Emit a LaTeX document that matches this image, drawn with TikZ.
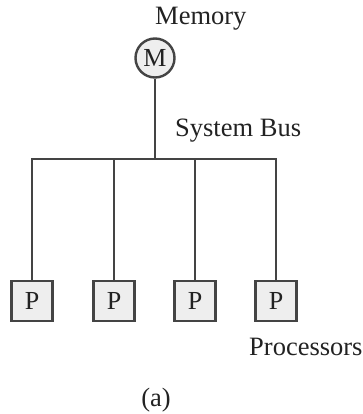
\documentclass[tikz,border=0pt]{standalone}
\usepackage{fontspec}
\setmainfont{Liberation Serif}
\definecolor{ln}{HTML}{444444}
\definecolor{fl}{HTML}{EEEEEE}
\definecolor{tx}{HTML}{222222}
\begin{document}
\begin{tikzpicture}[x=1pt,y=-1pt,
  lbl/.style={inner sep=0pt,text=tx,font=\fontsize{26.5}{30}\selectfont},
  wire/.style={draw=ln,line width=2.6pt},
  pbox/.style={draw=ln,fill=fl,line width=2.8pt,minimum width=41pt,minimum height=40pt,inner sep=0pt,text=tx,font=\fontsize{26}{30}\selectfont},
  mcirc/.style={circle,draw=ln,fill=fl,line width=2.4pt,minimum size=39pt,inner sep=0pt,text=tx,font=\fontsize{26}{30}\selectfont}]
\useasboundingbox (0,0) rectangle (363,414);
\node[lbl,anchor=base west] (memlbl) at (155,25) {Memory};
\node[mcirc] (m) at (155,58) {M};
\node[lbl,anchor=base west] (buslbl) at (175,137) {System Bus};
\coordinate (bc) at (155,159);
\coordinate (bl) at (32,159);
\coordinate (br) at (276,159);
\node[pbox] (p1) at (32,301) {P};
\node[pbox] (p2) at (114,301) {P};
\node[pbox] (p3) at (195,301) {P};
\node[pbox] (p4) at (276,301) {P};
\node[lbl,anchor=base west] (proc) at (249,355) {Processors};
\node[lbl,anchor=base] (cap) at (156,406) {(a)};
\draw[wire] (m.south) -- (bc);
\draw[wire,line cap=rect] (bl) -- (br);
\draw[wire] (bl) -- (p1.north);
\draw[wire] (p2.north |- bc) -- (p2.north);
\draw[wire] (p3.north |- bc) -- (p3.north);
\draw[wire] (br) -- (p4.north);
\end{tikzpicture}
\end{document}
